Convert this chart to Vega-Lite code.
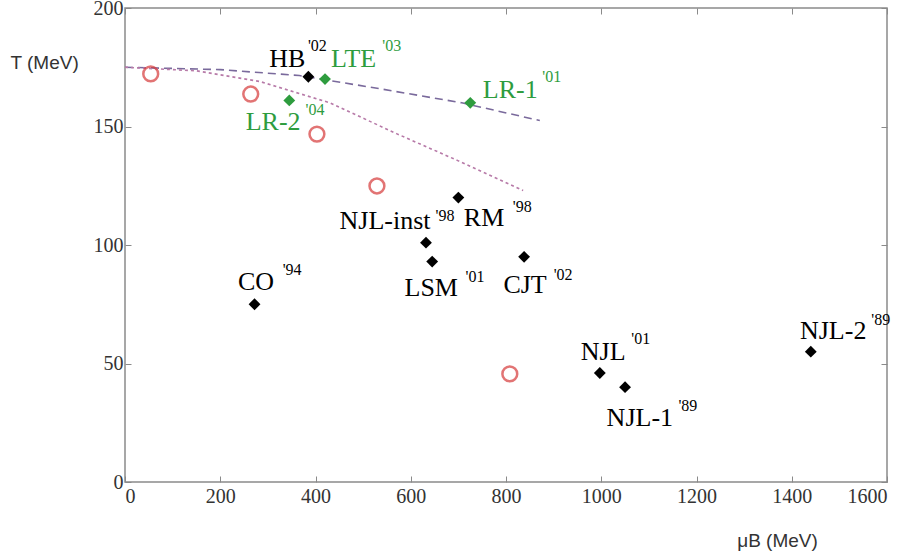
{
  "$schema": "https://vega.github.io/schema/vega-lite/v6.json",
  "width": 762,
  "height": 474,
  "autosize": {"type": "none"},
  "padding": {"left": 125, "top": 8, "right": 27, "bottom": 76},
  "background": "white",
  "config": {
    "view": {"stroke": "#8a8a8a", "strokeWidth": 1.5},
    "axis": {
      "grid": false,
      "domain": false,
      "ticks": true,
      "tickSize": -6,
      "tickColor": "#8a8a8a",
      "tickWidth": 1,
      "labelFont": "Liberation Serif, Times New Roman, DejaVu Serif, serif",
      "labelFontSize": 20,
      "labelColor": "#333333",
      "titleFont": "Liberation Sans, Arial, sans-serif",
      "titleFontSize": 19,
      "titleFontWeight": "normal",
      "titleColor": "#333333"
    }
  },
  "datasets": {
    "circles": [
      {"mu": 54, "T": 172.2},
      {"mu": 264, "T": 163.7},
      {"mu": 403, "T": 146.8},
      {"mu": 529, "T": 124.9},
      {"mu": 808, "T": 45.6}
    ],
    "diamonds": [
      {"mu": 385, "T": 171, "grp": "k"},
      {"mu": 700, "T": 120, "grp": "k"},
      {"mu": 632, "T": 101, "grp": "k"},
      {"mu": 645, "T": 93, "grp": "k"},
      {"mu": 838, "T": 95, "grp": "k"},
      {"mu": 272, "T": 75, "grp": "k"},
      {"mu": 997, "T": 46, "grp": "k"},
      {"mu": 1050, "T": 40, "grp": "k"},
      {"mu": 1440, "T": 55, "grp": "k"},
      {"mu": 420, "T": 170, "grp": "g"},
      {"mu": 725, "T": 160, "grp": "g"},
      {"mu": 345, "T": 161, "grp": "g"}
    ],
    "curve1": [
      {"mu": 0, "T": 175},
      {"mu": 200, "T": 174},
      {"mu": 366, "T": 171.5},
      {"mu": 533, "T": 166},
      {"mu": 707, "T": 160},
      {"mu": 871, "T": 152.5}
    ],
    "curve2": [
      {"mu": 0, "T": 175},
      {"mu": 150, "T": 173.5},
      {"mu": 283, "T": 169},
      {"mu": 430, "T": 160},
      {"mu": 570, "T": 147},
      {"mu": 700, "T": 135.5},
      {"mu": 836, "T": 123}
    ],
    "labels": [
      {"lx": 341, "ly": 178.5, "txt": "HB", "kind": "main", "grp": "k"},
      {"lx": 404, "ly": 184, "txt": "'02", "kind": "sup", "grp": "k"},
      {"lx": 480, "ly": 178.5, "txt": "LTE", "kind": "main", "grp": "g"},
      {"lx": 560, "ly": 184, "txt": "'03", "kind": "sup", "grp": "g"},
      {"lx": 809, "ly": 165.5, "txt": "LR-1", "kind": "main", "grp": "g"},
      {"lx": 896, "ly": 171, "txt": "'01", "kind": "sup", "grp": "g"},
      {"lx": 311, "ly": 152, "txt": "LR-2", "kind": "main", "grp": "g"},
      {"lx": 399, "ly": 157, "txt": "'04", "kind": "sup", "grp": "g"},
      {"lx": 546, "ly": 110, "txt": "NJL-inst", "kind": "main", "grp": "k"},
      {"lx": 672, "ly": 112.4, "txt": "'98", "kind": "sup", "grp": "k"},
      {"lx": 754, "ly": 111.6, "txt": "RM", "kind": "main", "grp": "k"},
      {"lx": 834, "ly": 116, "txt": "'98", "kind": "sup", "grp": "k"},
      {"lx": 643, "ly": 81.7, "txt": "LSM", "kind": "main", "grp": "k"},
      {"lx": 735, "ly": 86.7, "txt": "'01", "kind": "sup", "grp": "k"},
      {"lx": 840, "ly": 83, "txt": "CJT", "kind": "main", "grp": "k"},
      {"lx": 920, "ly": 87.3, "txt": "'02", "kind": "sup", "grp": "k"},
      {"lx": 275, "ly": 84.2, "txt": "CO", "kind": "main", "grp": "k"},
      {"lx": 351, "ly": 89.3, "txt": "'94", "kind": "sup", "grp": "k"},
      {"lx": 1004, "ly": 54.9, "txt": "NJL", "kind": "main", "grp": "k"},
      {"lx": 1083, "ly": 60.3, "txt": "'01", "kind": "sup", "grp": "k"},
      {"lx": 1081, "ly": 27, "txt": "NJL-1", "kind": "main", "grp": "k"},
      {"lx": 1182, "ly": 32, "txt": "'89", "kind": "sup", "grp": "k"},
      {"lx": 1487, "ly": 63.7, "txt": "NJL-2", "kind": "main", "grp": "k"},
      {"lx": 1587, "ly": 68.4, "txt": "'89", "kind": "sup", "grp": "k"}
    ]
  },
  "resolve": {"axis": {"x": "independent", "y": "independent"}},
  "layer": [
    {
      "data": {"name": "circles"},
      "mark": {"type": "point", "opacity": 0},
      "encoding": {
        "x": {"field": "mu", "type": "quantitative", "scale": {"domain": [0, 1600], "nice": false},
              "axis": {"orient": "top", "labels": false, "title": null, "values": [0, 200, 400, 600, 800, 1000, 1200, 1400, 1600]}},
        "y": {"field": "T", "type": "quantitative", "scale": {"domain": [0, 200], "nice": false},
              "axis": {"orient": "right", "labels": false, "title": null, "values": [0, 50, 100, 150, 200]}}
      }
    },
    {
      "data": {"name": "curve1"},
      "mark": {"type": "line", "stroke": "#7a6a9c", "strokeWidth": 1.6, "strokeDash": [8, 5]},
      "encoding": {
        "x": {"field": "mu", "type": "quantitative",
              "axis": {"orient": "bottom", "title": "μB  (MeV)", "titleX": 652, "titleY": 58, "titleAlign": "center", "titleBaseline": "middle", "values": [0, 200, 400, 600, 800, 1000, 1200, 1400, 1600], "format": "d", "labelPadding": 10}},
        "y": {"field": "T", "type": "quantitative",
              "axis": {"orient": "left", "title": "T (MeV)", "titleAngle": 0, "titleX": -115, "titleY": 54, "titleAlign": "left", "titleBaseline": "middle", "values": [0, 50, 100, 150, 200], "format": "d", "labelPadding": 8}}
      }
    },
    {
      "data": {"name": "curve2"},
      "mark": {"type": "line", "stroke": "#b77aa8", "strokeWidth": 1.6, "strokeDash": [3, 3]},
      "encoding": {
        "x": {"field": "mu", "type": "quantitative", "axis": null},
        "y": {"field": "T", "type": "quantitative", "axis": null}
      }
    },
    {
      "data": {"name": "circles"},
      "mark": {"type": "point", "shape": "circle", "filled": false, "stroke": "#d63a3a", "strokeWidth": 2.5, "size": 220},
      "encoding": {
        "x": {"field": "mu", "type": "quantitative", "axis": null},
        "y": {"field": "T", "type": "quantitative", "axis": null}
      }
    },
    {
      "data": {"name": "diamonds"},
      "mark": {"type": "point", "shape": "diamond", "filled": true, "size": 140, "opacity": 1},
      "encoding": {
        "x": {"field": "mu", "type": "quantitative", "axis": null},
        "y": {"field": "T", "type": "quantitative", "axis": null},
        "color": {"field": "grp", "type": "nominal", "scale": {"domain": ["k", "g"], "range": ["#000000", "#2e9c3e"]}, "legend": null}
      }
    },
    {
      "data": {"name": "labels"},
      "transform": [{"filter": "datum.kind === 'main'"}],
      "mark": {"type": "text", "font": "Liberation Serif, Times New Roman, DejaVu Serif, serif", "fontSize": 26, "align": "center", "baseline": "middle"},
      "encoding": {
        "x": {"field": "lx", "type": "quantitative", "axis": null},
        "y": {"field": "ly", "type": "quantitative", "axis": null},
        "text": {"field": "txt"},
        "color": {"field": "grp", "type": "nominal", "scale": {"domain": ["k", "g"], "range": ["#1a1a1a", "#3a9c48"]}, "legend": null}
      }
    },
    {
      "data": {"name": "labels"},
      "transform": [{"filter": "datum.kind === 'sup'"}],
      "mark": {"type": "text", "font": "Liberation Serif, Times New Roman, DejaVu Serif, serif", "fontSize": 16, "align": "center", "baseline": "middle"},
      "encoding": {
        "x": {"field": "lx", "type": "quantitative", "axis": null},
        "y": {"field": "ly", "type": "quantitative", "axis": null},
        "text": {"field": "txt"},
        "color": {"field": "grp", "type": "nominal", "scale": {"domain": ["k", "g"], "range": ["#1a1a1a", "#3a9c48"]}, "legend": null}
      }
    }
  ]
}
